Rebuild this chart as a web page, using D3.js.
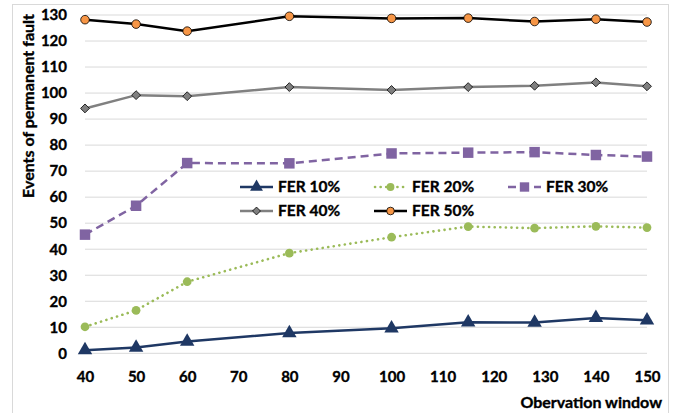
<!DOCTYPE html>
<html>
<head>
<meta charset="utf-8">
<script src="https://cdn.jsdelivr.net/npm/d3@7"></script>
<style>
  body { margin: 0; background: #fff; }
  svg { display: block; font-family: Lato, "Open Sans", sans-serif; font-weight: bold; }
  svg text { stroke: #000; stroke-width: 0.35px; }
</style>
</head>
<body>
<div id="chart"></div>
<script>
'use strict';

const windows = [40, 50, 60, 80, 100, 115, 128, 140, 150];
const fer10 = [1.2, 2.2, 4.5, 7.8, 9.6, 11.9, 11.8, 13.6, 12.7];
const fer20 = [10.2, 16.5, 27.5, 38.5, 44.6, 48.7, 48.1, 48.8, 48.3];
const fer30 = [45.6, 56.7, 73.1, 73.0, 76.8, 77.1, 77.3, 76.2, 75.6];
const fer40 = [94.1, 99.2, 98.8, 102.3, 101.2, 102.3, 102.8, 104.1, 102.6];
const fer50 = [128.2, 126.5, 123.8, 129.5, 128.7, 128.8, 127.5, 128.4, 127.3];
const seriesNames = ['FER 10%', 'FER 20%', 'FER 30%', 'FER 40%', 'FER 50%'];
const xTicks = [40, 50, 60, 70, 80, 90, 100, 110, 120, 130, 140, 150];
const yTicks = [0, 10, 20, 30, 40, 50, 60, 70, 80, 90, 100, 110, 120, 130];

const width = 683, height = 413;
const margin = { top: 15, left: 85, right: 36 };
const plotW = width - margin.left - margin.right;

const styles = [
  { line: '#1f3864', dash: null, width: 2.5, marker: 'triangle', fill: '#1f3864', stroke: '#1f3864', size: 90 },
  { line: '#9bbb59', dash: '0.1,5.5', width: 2.6, marker: 'circle', fill: '#9bbb59', stroke: '#9bbb59', size: 60 },
  { line: '#8064a2', dash: '8,5', width: 2.5, marker: 'square', fill: '#8064a2', stroke: '#8064a2', size: 110 },
  { line: '#808080', dash: null, width: 2.5, marker: 'diamond', fill: '#7f7f7f', stroke: '#000', size: 50 },
  { line: '#000000', dash: null, width: 2.5, marker: 'circle', fill: '#f79646', stroke: '#000', size: 58 }
];
const seriesData = [fer10, fer20, fer30, fer40, fer50];

const svg = d3.select('#chart').append('svg')
  .attr('width', width)
  .attr('height', height);

// chart frame
svg.append('rect')
  .attr('x', 12.5).attr('y', 4.5)
  .attr('width', 656).attr('height', 420)
  .attr('fill', 'none')
  .attr('stroke', '#d9d9d9');

const xScale = d3.scaleLinear().domain([40, 150]).range([0, plotW]);
// 0 sits at pixel 353.3, 130 at 15
const yScale = d3.scaleLinear().domain([0, 130]).range([353.3 - margin.top, 0]);

const chart = svg.append('g')
  .attr('transform', `translate(${margin.left}, ${margin.top})`);

// gridlines
chart.append('g')
  .selectAll('line')
  .data(yTicks)
  .enter().append('line')
  .attr('x1', 0).attr('x2', plotW)
  .attr('y1', d => yScale(d)).attr('y2', d => yScale(d))
  .attr('stroke', '#d9d9d9')
  .attr('stroke-width', 1);

const xAxis = d3.axisBottom(xScale).tickValues(xTicks).tickSize(0).tickPadding(0);
const yAxis = d3.axisLeft(yScale).tickValues(yTicks).tickSize(0).tickPadding(0);

const gx = chart.append('g')
  .attr('transform', `translate(0, ${yScale(0) + 17})`)
  .call(xAxis);
gx.select('.domain').remove();
gx.selectAll('text')
  .attr('dy', '0.35em')
  .attr('y', 6)
  .style('font-size', '15px')
  .style('font-family', 'Lato, sans-serif')
  .style('font-weight', 'bold')
  .attr('fill', '#000');

const gy = chart.append('g')
  .attr('transform', 'translate(-18, 0)')
  .call(yAxis);
gy.select('.domain').remove();
gy.selectAll('text')
  .style('font-size', '15px')
  .style('font-family', 'Lato, sans-serif')
  .style('font-weight', 'bold')
  .attr('fill', '#000');

const symbolType = {
  triangle: d3.symbolTriangle,
  circle: d3.symbolCircle,
  square: d3.symbolSquare,
  diamond: d3.symbolDiamond2
};

const line = d3.line()
  .x((d, i) => xScale(windows[i]))
  .y(d => yScale(d));

seriesData.forEach((vals, k) => {
  const st = styles[k];
  chart.append('path')
    .datum(vals)
    .attr('d', line)
    .attr('fill', 'none')
    .attr('stroke', st.line)
    .attr('stroke-width', st.width)
    .attr('stroke-dasharray', st.dash)
    .attr('stroke-linecap', k === 1 ? 'round' : 'butt');

  chart.append('g')
    .selectAll('path')
    .data(vals)
    .enter().append('path')
    .attr('d', d3.symbol().type(symbolType[st.marker]).size(st.size))
    .attr('transform', (d, i) => `translate(${xScale(windows[i])}, ${yScale(d)})`)
    .attr('fill', st.fill)
    .attr('stroke', st.stroke)
    .attr('stroke-width', st.stroke === '#000' ? 0.8 : 0);
});

// legend
const legendPos = [
  { x: 240, y: 187 }, { x: 374, y: 187 }, { x: 508, y: 187 },
  { x: 240, y: 211 }, { x: 374, y: 211 }
];
seriesNames.forEach((name, k) => {
  const st = styles[k];
  const p = legendPos[k];
  const g = svg.append('g').attr('transform', `translate(${p.x}, ${p.y})`);
  g.append('line')
    .attr('x1', k === 1 ? 1 : 0).attr('x2', 33)
    .attr('y1', 0).attr('y2', 0)
    .attr('stroke', st.line)
    .attr('stroke-width', st.width)
    .attr('stroke-dasharray', st.dash)
    .attr('stroke-linecap', k === 1 ? 'round' : 'butt');
  g.append('path')
    .attr('d', d3.symbol().type(symbolType[st.marker]).size(st.size * 0.8))
    .attr('transform', 'translate(16.5, 0)')
    .attr('fill', st.fill)
    .attr('stroke', st.stroke)
    .attr('stroke-width', st.stroke === '#000' ? 0.8 : 0);
  g.append('text')
    .attr('x', 38)
    .attr('y', 0)
    .attr('dy', '0.35em')
    .style('font-size', '15.5px')
    .text(name);
});

// axis titles
svg.append('text')
  .attr('transform', 'translate(28, 106) rotate(-90)')
  .attr('text-anchor', 'middle')
  .attr('dy', '0.35em')
  .style('font-size', '16px')
  .text('Events of permanent fault');

svg.append('text')
  .attr('x', 662)
  .attr('y', 402)
  .attr('text-anchor', 'end')
  .attr('dy', '0.35em')
  .style('font-size', '16px')
  .text('Obervation window');
</script>
</body>
</html>
